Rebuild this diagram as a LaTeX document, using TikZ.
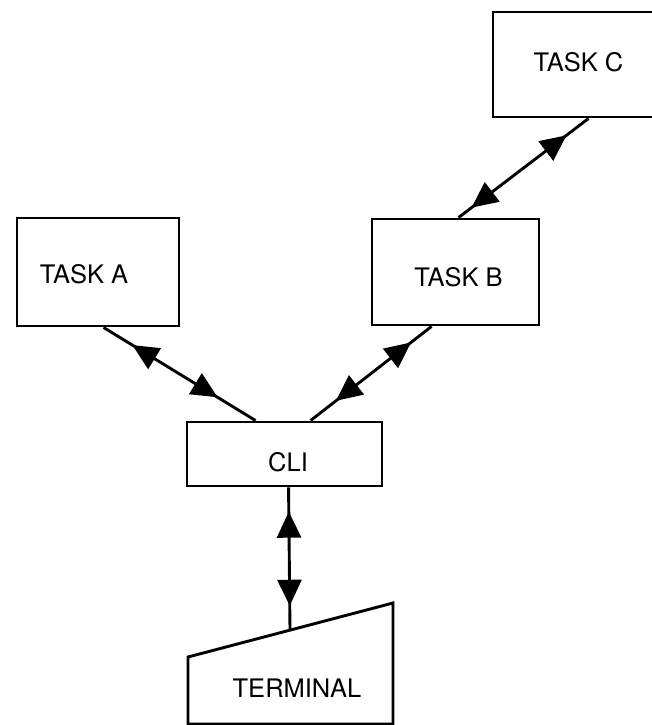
\documentclass[tikz,border=0pt]{standalone}
\usepackage{fontspec}
\setmainfont{TeX Gyre Heros}
\usetikzlibrary{arrows.meta,calc,decorations.markings}

\tikzset{
  box/.style={draw, line width=2.9pt, inner sep=0pt, rectangle},
  lbl/.style={inner sep=0pt, font=\fontsize{25.5}{30}\selectfont},
  bigtip/.tip={Triangle[length=26pt,width=24pt]},
  link/.style n args={2}{line width=2.9pt,
    decoration={markings,
      mark=at position #1 with {\arrowreversed{bigtip}},
      mark=at position #2 with {\arrow{bigtip}}},
    postaction={decorate}}
}

\begin{document}
\begin{tikzpicture}[x=1pt,y=-1pt]
  \useasboundingbox (0,0) rectangle (651,725);

  % task boxes
  \node[box, minimum width=162pt, minimum height=108pt] (ta) at (98,272) {};
  \node[lbl] (talbl) at (84,274.5) {TASK A};

  \node[box, minimum width=167pt, minimum height=106pt] (tb) at (455.5,272) {};
  \node[lbl] (tblbl) at (458.5,277) {TASK B};

  \node[box, minimum width=172pt, minimum height=105pt] (tc) at (579,64.5) {};
  \node[lbl] (tclbl) at (578.5,62) {TASK C};

  % command line interpreter
  \node[box, minimum width=195pt, minimum height=64pt] (cli) at (284.5,454) {};
  \node[lbl] (clilbl) at (288,462) {CLI};

  % terminal (slanted top)
  \draw[line width=2.9pt, line join=miter]
    (188,657) -- (393,603) -- (393,724) -- (188,724) -- cycle;
  \coordinate (termtop) at (290,630);
  \node[lbl] (termlbl) at (297,688) {TERMINAL};

  % two-way connectors
  \draw[link={0.19}{0.75}] ($(ta.south west)+(88,0)$) -- ($(cli.north west)+(70,0)$);
  \draw[link={0.17}{0.79}] ($(tb.south west)+(61,0)$) -- ($(cli.north west)+(125,0)$);
  \draw[link={0.10}{0.83}] ($(tb.north west)+(88,0)$) -- ($(tc.south west)+(97,0)$);
  \draw[link={0.17}{0.83}] ($(cli.south west)+(103,0)$) -- (termtop);
\end{tikzpicture}
\end{document}
